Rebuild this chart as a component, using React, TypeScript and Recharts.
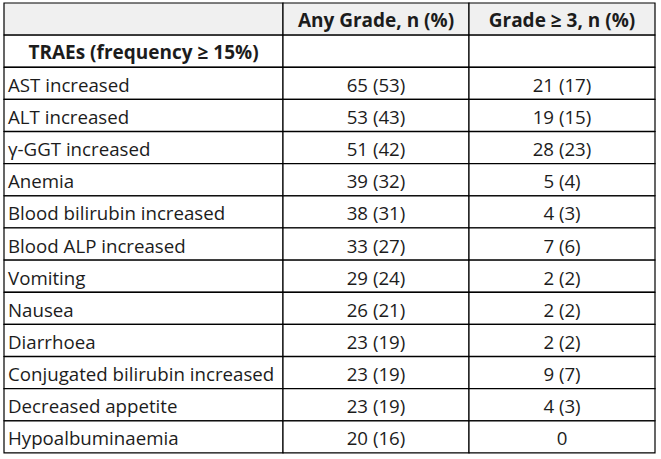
import React from "react";
import { BarChart, Bar, XAxis, YAxis, LabelList, Cell } from "recharts";

// table contents
const headers = ["", "Any Grade, n (%)", "Grade ≥ 3, n (%)"];
const sectionTitle = "TRAEs (frequency ≥ 15%)";
const events = [
  "AST increased",
  "ALT increased",
  "γ-GGT increased",
  "Anemia",
  "Blood bilirubin increased",
  "Blood ALP increased",
  "Vomiting",
  "Nausea",
  "Diarrhoea",
  "Conjugated bilirubin increased",
  "Decreased appetite",
  "Hypoalbuminaemia"
];
const anyN = [65, 53, 51, 39, 38, 33, 29, 26, 23, 23, 23, 20];
const anyPct = [53, 43, 42, 32, 31, 27, 24, 21, 19, 19, 19, 16];
const g3N = [21, 19, 28, 5, 4, 7, 2, 2, 2, 9, 4, 0];
const g3Pct: (number | null)[] = [17, 15, 23, 4, 3, 6, 2, 2, 2, 7, 3, null];

// relative column widths
const COL_SPAN = [3, 2, 2];

const fmt = (n: number, p: number | null) => (p == null ? `${n}` : `${n} (${p})`);

type Row = {
  key: string;
  kind: "header" | "section" | "body";
  c1: string;
  c2: string;
  c3: string;
  s1: number;
  s2: number;
  s3: number;
};

const rows: Row[] = [
  { key: "h", kind: "header", c1: headers[0], c2: headers[1], c3: headers[2] },
  { key: "s", kind: "section", c1: sectionTitle, c2: "", c3: "" },
  ...events.map((e, i) => ({
    key: `r${i}`,
    kind: "body" as const,
    c1: e,
    c2: fmt(anyN[i], anyPct[i]),
    c3: fmt(g3N[i], g3Pct[i])
  }))
].map((r) => ({ ...r, s1: COL_SPAN[0], s2: COL_SPAN[1], s3: COL_SPAN[2] }));

const FONT = "'Open Sans', 'Noto Sans', sans-serif";

const makeLabel = (col: 1 | 2 | 3) => (props: any) => {
  const { x, y, width, height, index, value } = props;
  const row = rows[index];
  if (!value) return null;
  const bold = row.kind !== "body";
  const centered = col !== 1 || row.kind === "section";
  return (
    <text
      x={centered ? x + width / 2 : x + 4}
      y={y + height / 2 + 1}
      textAnchor={centered ? "middle" : "start"}
      dominantBaseline="central"
      fontFamily={FONT}
      fontSize={bold ? 19 : 18.7}
      fontWeight={bold ? 700 : 400}
      fill="#1c1c1c"
    >
      {value}
    </text>
  );
};

const cellFill = (r: Row) => (r.kind === "header" ? "#f0f0f0" : "#ffffff");

const App: React.FC = () => {
  return (
    <div style={{ position: "absolute", left: 0, top: 0, background: "#fff" }}>
      <BarChart
        width={661}
        height={459}
        data={rows}
        layout="vertical"
        margin={{ top: 3, right: 6, bottom: 6, left: 4 }}
        barCategoryGap={0}
        barGap={0}
      >
        <XAxis type="number" domain={[0, 7]} hide />
        <YAxis type="category" dataKey="key" hide />
        {(["s1", "s2", "s3"] as const).map((k, ci) => (
          <Bar
            key={k}
            dataKey={k}
            stackId="table"
            stroke="#000"
            strokeWidth={1.2}
            isAnimationActive={false}
          >
            {rows.map((r) => (
              <Cell key={r.key} fill={cellFill(r)} />
            ))}
            <LabelList dataKey={`c${ci + 1}`} content={makeLabel((ci + 1) as 1 | 2 | 3)} />
          </Bar>
        ))}
      </BarChart>
    </div>
  );
};

export default App;
